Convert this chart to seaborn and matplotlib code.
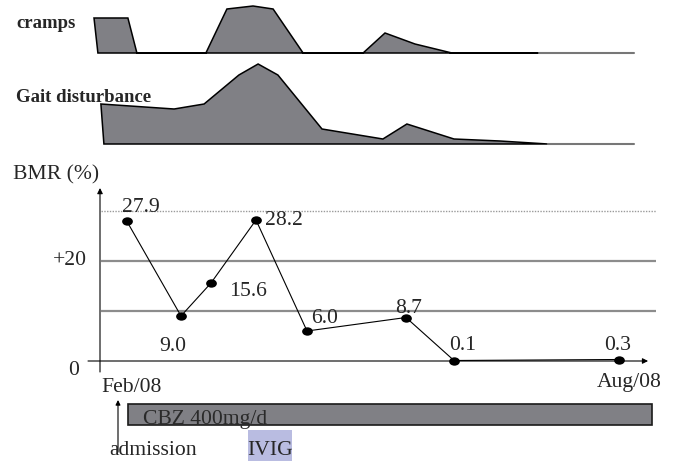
import numpy as np
import pandas as pd
import matplotlib
matplotlib.use('Agg')
import matplotlib.pyplot as plt
from matplotlib.path import Path
import seaborn as sns

# time axis: days after 1 Feb 2008
bmr_days = [9, 27, 37, 52, 69, 102, 118, 173]
bmr_values = [27.9, 9.0, 15.6, 28.2, 6.0, 8.7, 0.1, 0.3]
bmr_labels = ['27.9', '9.0', '15.6', '28.2', '6.0', '8.7', '0.1', '0.3']

# symptom severity outlines (arbitrary units)
cramps_days = [-0.7, -2, 9.3, 12.3, 35.3, 42.3, 51, 57.7, 67.7, 87.7, 95, 105, 117.3, 146.3]
cramps_level = [0, 3.5, 3.5, 0, 0, 4.4, 4.7, 4.4, 0, 0, 2.0, 0.9, 0, 0]
gait_days = [1.3, 0.3, 24.7, 34.7, 46.3, 52.7, 59.3, 74, 94.3, 102.3, 118, 133.3, 149.3]
gait_level = [0, 4.0, 3.5, 4.0, 6.9, 8.0, 6.9, 1.5, 0.5, 2.0, 0.5, 0.3, 0]
follow_up_end = 178

# treatments
admission_day = 6
cbz_start, cbz_end = 9.3, 184
ivig_start, ivig_end = 49.3, 64

grid_levels = [10, 20]
upper_ref = 30

sns.set_style('white')
plt.rcParams['font.family'] = ['Liberation Serif', 'DejaVu Serif']
FS = 15.6
GREY = '#808085'

W, H = 675, 461
fig = plt.figure(figsize=(W / 100, H / 100), dpi=100)
XLIM = (-100 / 3, 575 / 3)


def panel(top, bottom, ylim):
    ax = fig.add_axes([0, 1 - bottom / H, 1, (bottom - top) / H])
    ax.set_xlim(XLIM)
    ax.set_ylim(ylim)
    ax.set_axis_off()
    return ax


# cramps
ax_c = panel(0, 60, (-0.7, 5.3))
ax_c.fill(cramps_days, cramps_level, facecolor=GREY, edgecolor='black', lw=1.1)
ax_c.plot([cramps_days[-1], follow_up_end], [0, 0], color='#777777', lw=1.5)
ax_c.text(-28, 2.5, 'cramps', fontsize=13.5, fontweight='bold', ha='left', va='baseline')

# gait disturbance
ax_g = panel(60, 155, (-1.1, 8.4))
ax_g.fill(gait_days, gait_level, facecolor=GREY, edgecolor='black', lw=1.1)
ax_g.plot([gait_days[-1], follow_up_end], [0, 0], color='#777777', lw=1.5)
ax_g.text(-28, 4.2, 'Gait disturbance', fontsize=13.5, fontweight='bold', ha='left', va='baseline')

# BMR
ax = panel(160, 392, (-6.2, 40.2))
df = pd.DataFrame({'day': bmr_days, 'bmr': bmr_values})

ax.hlines(grid_levels, 0.3, 185.3, color='#8c8c8c', lw=1.6)
ax.hlines(upper_ref, 0.3, 185.3, color='#9a9a9a', lw=1.0, linestyles=(0, (1, 1)))

ax.annotate('', xy=(182.7, 0), xytext=(-4, 0),
            arrowprops=dict(arrowstyle='-|>', color='black', lw=0.8, mutation_scale=8,
                            shrinkA=0, shrinkB=0))
ax.annotate('', xy=(0, 34.6), xytext=(0, -2.2),
            arrowprops=dict(arrowstyle='-|>', color='black', lw=0.8, mutation_scale=8,
                            shrinkA=0, shrinkB=0))

sns.lineplot(data=df, x='day', y='bmr', color='black', lw=0.8, ax=ax)
circ = Path.unit_circle()
ellipse = Path(circ.vertices * np.array([1.0, 0.78]), circ.codes)
sns.scatterplot(data=df, x='day', y='bmr', marker=ellipse, s=60, color='black',
                linewidth=0, ax=ax, zorder=5)
ax.set_axis_off()

label_offsets = [(14, 9.5), (-8, -35), (37, -13), (28, -5),
                 (18, 8), (3, 4.5), (9, 10.5), (-1.5, 9.5)]
for d, v, lab, off in zip(bmr_days, bmr_values, bmr_labels, label_offsets):
    ax.annotate(lab, (d, v), xytext=off, textcoords='offset pixels',
                ha='center', va='baseline', fontsize=FS)

ax.text(-29, 36.4, 'BMR (%)', fontsize=FS, ha='left', va='baseline')
ax.text(-4.33, 19.2, '+20', fontsize=FS, ha='right', va='baseline')
ax.text(-7, -2.8, '0', fontsize=FS, ha='right', va='baseline')
ax.text(0.33, -6.2, 'Feb/08', fontsize=FS, ha='left', va='baseline')
ax.text(187.3, -5.2, 'Aug/08', fontsize=FS, ha='right', va='baseline')

# treatments (y in pixel rows, top down)
ax_t = panel(392, 461, (461, 392))
ax_t.barh(414.5, cbz_end - cbz_start, left=cbz_start, height=21,
          color=GREY, edgecolor='#1a1a1a', lw=1.2)
ax_t.text(cbz_start + 5, 424, 'CBZ 400mg/d', fontsize=FS, color='#2a2a2a',
          ha='left', va='baseline')
ax_t.barh(445.5, ivig_end - ivig_start, left=ivig_start, height=31,
          color='#b9bce1', lw=0)
ax_t.text((ivig_start + ivig_end) / 2, 455, 'IVIG', fontsize=FS, ha='center', va='baseline')
ax_t.annotate('', xy=(admission_day, 400), xytext=(admission_day, 452),
              arrowprops=dict(arrowstyle='-|>', color='black', lw=0.8, mutation_scale=7,
                              shrinkA=0, shrinkB=0))
ax_t.text(admission_day - 3, 455, 'admission', fontsize=FS, ha='left', va='baseline')

fig.savefig('out.png', dpi=100)
